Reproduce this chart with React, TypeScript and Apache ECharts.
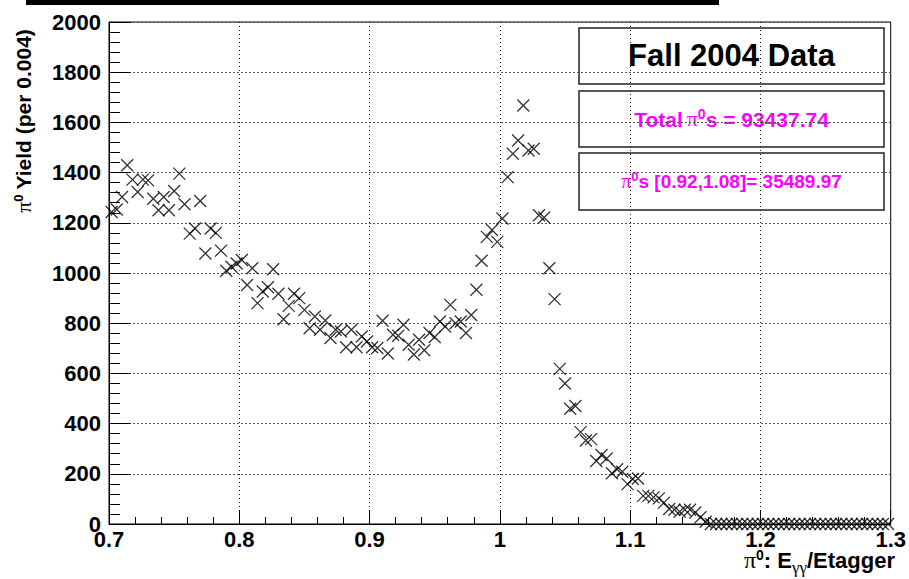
import React, { useEffect, useRef } from "react";
import * as echarts from "echarts";

// Histogram: pi0 yield per bin of width 0.004 starting at 0.7
const binStart = 0.7;
const binWidth = 0.004;
const yieldPerBin = [
  1243, 1253, 1303, 1429, 1372, 1323, 1372, 1369, 1296, 1250,
  1303, 1250, 1327, 1396, 1274, 1157, 1177, 1287, 1078, 1177,
  1160, 1089, 1009, 1025, 1038, 1052, 952, 1019, 880, 926,
  943, 1015, 917, 816, 869, 917, 900, 853, 780, 827,
  774, 811, 741, 774, 767, 704, 774, 704, 747, 727,
  704, 701, 810, 679, 754, 750, 794, 714, 675, 734,
  692, 761, 745, 807, 787, 873, 800, 807, 761, 833,
  933, 1049, 1144, 1171, 1124, 1217, 1382, 1475, 1528, 1667,
  1488, 1495, 1230, 1221, 1019, 896, 618, 560, 459, 470,
  366, 333, 338, 251, 275, 261, 202, 218, 208, 159,
  179, 181, 112, 112, 106, 102, 85, 60, 57, 49,
  57, 57, 46, 27, 9, 0, 0, 0, 0, 0,
  0, 0, 0, 0, 0, 0, 0, 0, 0, 0,
  0, 0, 0, 0, 0, 0, 0, 0, 0, 0,
  0, 0, 0, 0, 0, 0, 0, 0, 0, 0,
];

const xTickLabels = ["0.7", "0.8", "0.9", "1", "1.1", "1.2", "1.3"];
const yTickLabels = ["0", "200", "400", "600", "800", "1000", "1200", "1400", "1600", "1800", "2000"];

const legendTitle = "Fall 2004 Data";
const totalValueText = "s = 93437.74";
const windowValueText = "s [0.92,1.08]= 35489.97";

const SANS = '"Liberation Sans", Arial, Helvetica, sans-serif';
const SERIF = '"Liberation Serif", "Times New Roman", serif';
const MAGENTA = "#ff00ff";

type Frag = { t: string; size: number; serif?: boolean; dy?: number; gap?: number };

let measureCtx: CanvasRenderingContext2D | null = null;
function fragWidth(f: Frag): number {
  if (!measureCtx) measureCtx = document.createElement("canvas").getContext("2d");
  const ctx = measureCtx!;
  ctx.font = `${f.serif ? "normal" : "bold"} ${f.size}px ${f.serif ? SERIF : SANS}`;
  return ctx.measureText(f.t).width + (f.gap || 0);
}

function row(frags: Frag[], x: number, baseline: number, align: "left" | "center" | "right", color: string) {
  const widths = frags.map(fragWidth);
  const total = widths.reduce((a, b) => a + b, 0);
  let cx = align === "left" ? x : align === "center" ? x - total / 2 : x - total;
  return frags.map((f, i) => {
    const el = {
      type: "text",
      x: cx,
      y: baseline + (f.dy || 0) - 0.35 * f.size,
      silent: true,
      style: {
        text: f.t,
        fill: color,
        fontSize: f.size,
        fontFamily: f.serif ? SERIF : SANS,
        fontWeight: f.serif ? "normal" : "bold",
        align: "left",
        verticalAlign: "middle",
      },
    };
    cx += widths[i];
    return el;
  });
}

function box(x: number, y: number, w: number, h: number) {
  return {
    type: "rect",
    shape: { x, y, width: w, height: h },
    silent: true,
    style: { fill: "#fff", stroke: "#222", lineWidth: 1.5 },
  };
}

export default function App() {
  const ref = useRef<HTMLDivElement>(null);

  useEffect(() => {
    if (!ref.current) return;
    const chart = echarts.init(ref.current, undefined, { renderer: "svg" });

    const data = yieldPerBin.map((v, i) => [binStart + binWidth * (i + 0.5), v]);

    const graphic: any[] = [
      { type: "rect", shape: { x: 26, y: 0, width: 693, height: 5 }, silent: true, style: { fill: "#000" } },
      box(579, 28, 305, 56),
      box(579, 91, 305, 56),
      box(579, 153, 305, 57),
      ...row([{ t: legendTitle, size: 31 }], 731.5, 66.5, "center", "#000"),
      ...row(
        [
          { t: "Total", size: 21, gap: 4 },
          { t: "π", size: 22, serif: true },
          { t: "0", size: 14, dy: -8 },
          { t: totalValueText, size: 21 },
        ],
        731.5,
        126.5,
        "center",
        MAGENTA
      ),
      ...row(
        [
          { t: "π", size: 20, serif: true },
          { t: "0", size: 13, dy: -7 },
          { t: windowValueText, size: 19 },
        ],
        731.5,
        188,
        "center",
        MAGENTA
      ),
      {
        type: "group",
        x: 31,
        y: 121,
        rotation: Math.PI / 2,
        children: row(
          [
            { t: "π", size: 22, serif: true },
            { t: "0", size: 13, dy: -8, gap: 5 },
            { t: "Yield (per 0.004)", size: 21 },
          ],
          0,
          0,
          "center",
          "#000"
        ),
      },
      ...row(
        [
          { t: "π", size: 24, serif: true },
          { t: "0", size: 14, dy: -8 },
          { t: ": E", size: 22 },
          { t: "γγ", size: 17, serif: true, dy: 5 },
          { t: "/Etagger", size: 22 },
        ],
        895,
        568,
        "right",
        "#000"
      ),
    ];

    const option: any = {
      animation: false,
      backgroundColor: "#fff",
      grid: { left: 109, right: 18, top: 22, bottom: 55, show: true, borderColor: "#000", borderWidth: 1, backgroundColor: "transparent" },
      xAxis: {
        type: "value",
        min: 0.7,
        max: 1.3,
        interval: 0.1,
        axisLine: { show: true, onZero: false, lineStyle: { color: "#000", width: 1 } },
        axisTick: { show: true, inside: true, length: 14, lineStyle: { color: "#000", width: 1 } },
        minorTick: { show: true, splitNumber: 5, length: 7, lineStyle: { color: "#000", width: 1 } },
        splitLine: { show: true, lineStyle: { color: "#222", type: [1, 3], width: 1 } },
        axisLabel: {
          formatter: (v: number) => xTickLabels[Math.round((v - 0.7) / 0.1)] ?? "",
          color: "#000",
          fontSize: 22,
          fontWeight: "bold",
          fontFamily: SANS,
          margin: 4,
          showMinLabel: true,
          showMaxLabel: true,
        },
      },
      yAxis: {
        type: "value",
        min: 0,
        max: 2000,
        interval: 200,
        axisLine: { show: true, onZero: false, lineStyle: { color: "#000", width: 1 } },
        axisTick: { show: true, inside: true, length: 22, lineStyle: { color: "#000", width: 1 } },
        minorTick: { show: true, splitNumber: 5, length: 11, lineStyle: { color: "#000", width: 1 } },
        splitLine: { show: true, lineStyle: { color: "#555", type: [2, 2], width: 1 } },
        axisLabel: {
          formatter: (v: number) => yTickLabels[Math.round(v / 200)] ?? "",
          color: "#000",
          fontSize: 22,
          fontWeight: "bold",
          fontFamily: SANS,
          margin: 8,
          showMinLabel: true,
          showMaxLabel: true,
        },
      },
      series: [
        {
          type: "scatter",
          data,
          symbol: "path://M0 0L10 10M10 0L0 10",
          symbolSize: 12,
          itemStyle: { color: "none", borderColor: "#000", borderWidth: 1.3 },
          silent: true,
          clip: false,
        },
      ],
      graphic,
    };

    chart.setOption(option);
    return () => chart.dispose();
  }, []);

  return (
    <div
      ref={ref}
      style={{ position: "fixed", left: 0, top: 0, width: 909, height: 579, background: "#fff" }}
    />
  );
}
